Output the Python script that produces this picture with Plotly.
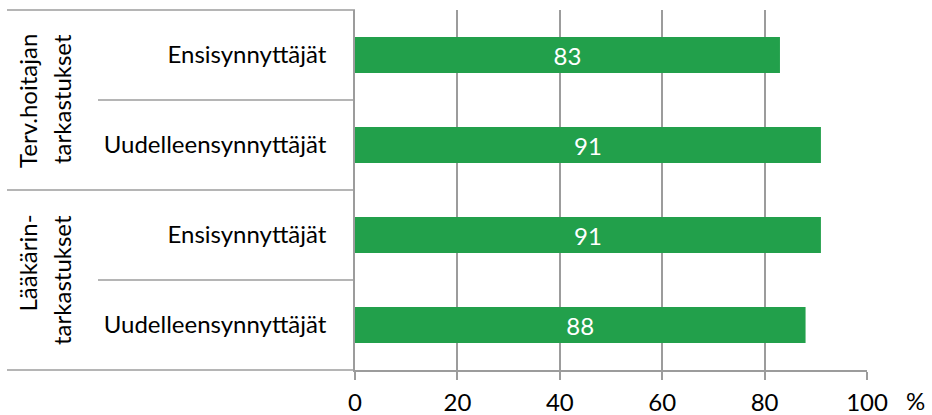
import plotly.graph_objects as go

# Survey shares (%) per checkup type and mother group
groups = ["Terv.hoitajan<br>tarkastukset", "Lääkärin-<br>tarkastukset"]
categories = ["Ensisynnyttäjät", "Uudelleensynnyttäjät",
              "Ensisynnyttäjät", "Uudelleensynnyttäjät"]
values = [83, 91, 91, 88]
x_ticks = [0, 20, 40, 60, 80, 100]
unit_label = "%"

FONT = "Lato"
FS = 24
GREY = "#9c9c9c"
GREEN = "#22a04b"

W, H = 932, 415
L, R, T, B = 355, 65, 10, 45
PW, PH = W - L - R, H - T - B


def px_x(px):
    return (px - L) / PW


def px_y(py):
    return (H - B - py) / PH


positions = list(range(len(categories)))

fig = go.Figure(
    go.Bar(
        x=values,
        y=positions,
        orientation="h",
        width=0.4,
        marker=dict(color=GREEN, line=dict(width=0)),
        text=[str(v) for v in values],
        textposition="inside",
        insidetextanchor="middle",
        textfont=dict(family=FONT, size=FS, color="white"),
        hoverinfo="skip",
    )
)

fig.update_xaxes(
    range=[0, 100],
    tickvals=x_ticks,
    ticktext=[str(t) for t in x_ticks],
    showgrid=True,
    gridcolor=GREY,
    gridwidth=1.5,
    zeroline=False,
    showline=True,
    linecolor=GREY,
    linewidth=1.5,
    ticks="outside",
    ticklen=8,
    tickwidth=1.5,
    tickcolor=GREY,
    ticklabelstandoff=2,
    tickfont=dict(family=FONT, size=FS, color="black"),
    automargin=False,
    fixedrange=True,
)

fig.update_yaxes(
    range=[len(categories) - 0.5, -0.5],
    tickvals=positions,
    ticktext=categories,
    showgrid=False,
    zeroline=False,
    showline=True,
    linecolor=GREY,
    linewidth=1.5,
    ticks="",
    ticklabelstandoff=22,
    tickfont=dict(family=FONT, size=FS, color="black"),
    automargin=False,
    fixedrange=True,
)

# Table-style separators in the label column
shapes = []
for yp, x_start in [(1.0, 7), (0.75, 98), (0.5, 7), (0.25, 98), (0.0, 7)]:
    shapes.append(dict(
        type="line", xref="paper", yref="paper",
        x0=px_x(x_start), x1=0, y0=yp, y1=yp,
        line=dict(color=GREY, width=1.5),
    ))

# Rotated group titles, lines aligned toward the top
annotations = []
group_tops = [32, 213]
for g, top in zip(groups, group_tops):
    for line, cx in zip(g.split("<br>"), [27, 61]):
        annotations.append(dict(
            text=line, xref="paper", yref="paper",
            x=px_x(cx), y=px_y(top),
            xanchor="center", yanchor="top",
            textangle=-90, showarrow=False,
            font=dict(family=FONT, size=FS, color="black"),
        ))

annotations.append(dict(
    text=unit_label, xref="paper", yref="paper",
    x=px_x(915), y=px_y(400),
    xanchor="center", yanchor="middle", showarrow=False,
    font=dict(family=FONT, size=FS, color="black"),
))

fig.update_layout(
    width=W,
    height=H,
    margin=dict(l=L, r=R, t=T, b=B, autoexpand=False),
    paper_bgcolor="white",
    plot_bgcolor="white",
    showlegend=False,
    shapes=shapes,
    annotations=annotations,
    bargap=0.6,
)

fig.write_html("out.html", config={"displayModeBar": False})
